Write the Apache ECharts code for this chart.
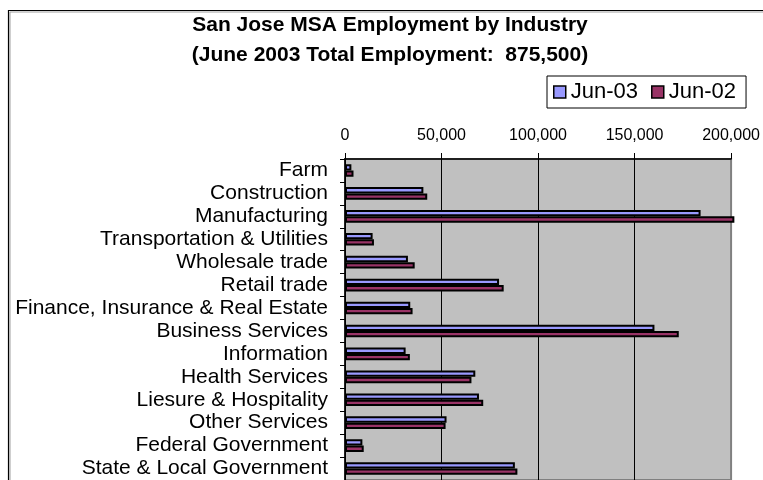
<!DOCTYPE html>
<html>
<head>
<meta charset="utf-8">
<script src="https://cdn.jsdelivr.net/npm/echarts@6/dist/echarts.min.js"></script>
<style>
  html, body { margin: 0; padding: 0; background: #ffffff; }
  #chart { width: 763px; height: 480px; }
</style>
</head>
<body>
<div id="chart"></div>
<script>
// Industry categories, top to bottom
const industries = [
  'Farm', 'Construction', 'Manufacturing', 'Transportation & Utilities',
  'Wholesale trade', 'Retail trade', 'Finance, Insurance & Real Estate',
  'Business Services', 'Information', 'Health Services',
  'Liesure & Hospitality', 'Other Services', 'Federal Government',
  'State & Local Government'
];

// Employment, June 2003
const jun03 = [3300, 40600, 184200, 14300, 32600, 79800, 33800,
               160300, 31400, 67500, 69400, 52600, 9000, 88000];

// Employment, June 2002
const jun02 = [4400, 42600, 201700, 15000, 36100, 82200, 35000,
               172900, 33600, 65500, 71600, 52100, 9700, 89300];

const seriesNames = ['Jun-03', 'Jun-02'];
const seriesColors = ['#9999FF', '#993366'];

const titleLines = ['San Jose MSA Employment by Industry',
                    '(June 2003 Total Employment:  875,500)'];

const axisMin = 0, axisMax = 200000, axisStep = 50000;

const FONT = '"Liberation Sans", Arial, sans-serif';

const chart = echarts.init(document.getElementById('chart'), null, { renderer: 'canvas' });

const fmt = v => v.toLocaleString('en-US');

chart.setOption({
  animation: false,
  backgroundColor: '#ffffff',
  textStyle: { fontFamily: FONT, color: '#000' },
  graphic: [
    // chart frame with a soft inner shadow line
    { type: 'rect', z: -1, silent: true,
      shape: { x: 10, y: 12, width: 800, height: 500 },
      style: { fill: 'none', stroke: '#a0a0a0', lineWidth: 1 } },
    { type: 'rect', z: -1, silent: true,
      shape: { x: 8.5, y: 10.5, width: 800, height: 500 },
      style: { fill: 'none', stroke: '#000', lineWidth: 1.2 } },
    { type: 'text', x: 390, y: 25, silent: true,
      style: { text: titleLines[0], font: 'bold 21px ' + FONT, fill: '#000',
               textAlign: 'center', textVerticalAlign: 'middle' } },
    { type: 'text', x: 390, y: 55, silent: true,
      style: { text: titleLines[1], font: 'bold 21px ' + FONT, fill: '#000',
               textAlign: 'center', textVerticalAlign: 'middle' } }
  ],
  legend: {
    data: seriesNames,
    left: 547, top: 76,
    orient: 'horizontal',
    padding: [5, 10, 5, 6],
    itemGap: 13,
    itemWidth: 12, itemHeight: 12,
    icon: 'rect',
    borderColor: '#000', borderWidth: 1,
    backgroundColor: '#fff',
    itemStyle: { borderColor: '#000', borderWidth: 1.5 },
    textStyle: { fontFamily: FONT, fontSize: 22, color: '#000', padding: [0, 0, 0, 0] }
  },
  grid: {
    left: 345, top: 159, width: 393, height: 326,
    show: true, backgroundColor: '#C0C0C0',
    borderColor: '#808080', borderWidth: 2
  },
  xAxis: {
    type: 'value', position: 'top',
    min: axisMin, max: axisMax, interval: axisStep,
    axisLine: { show: true, lineStyle: { color: '#000', width: 1.5 } },
    axisTick: { show: true, length: 6, lineStyle: { color: '#000', width: 1 } },
    splitLine: { show: true, showMaxLine: false, lineStyle: { color: '#000', width: 1 } },
    axisLabel: { fontFamily: FONT, fontSize: 16, color: '#000', margin: 15,
                 formatter: v => fmt(v) }
  },
  yAxis: {
    type: 'category', inverse: true, data: industries,
    axisLine: { show: true, lineStyle: { color: '#000', width: 1.5 } },
    axisTick: { show: true, length: 5, interval: 0, lineStyle: { color: '#000', width: 1 } },
    axisLabel: { fontFamily: FONT, fontSize: 21, color: '#000', margin: 17,
                 interval: 0, hideOverlap: false }
  },
  series: [
    { name: seriesNames[0], type: 'bar', data: jun03, clip: false,
      barGap: '0%', barCategoryGap: '45%',
      itemStyle: { color: seriesColors[0], borderColor: '#000', borderWidth: 2 } },
    { name: seriesNames[1], type: 'bar', data: jun02, clip: false,
      barGap: '0%', barCategoryGap: '45%',
      itemStyle: { color: seriesColors[1], borderColor: '#000', borderWidth: 2 } }
  ]
});
</script>
</body>
</html>
